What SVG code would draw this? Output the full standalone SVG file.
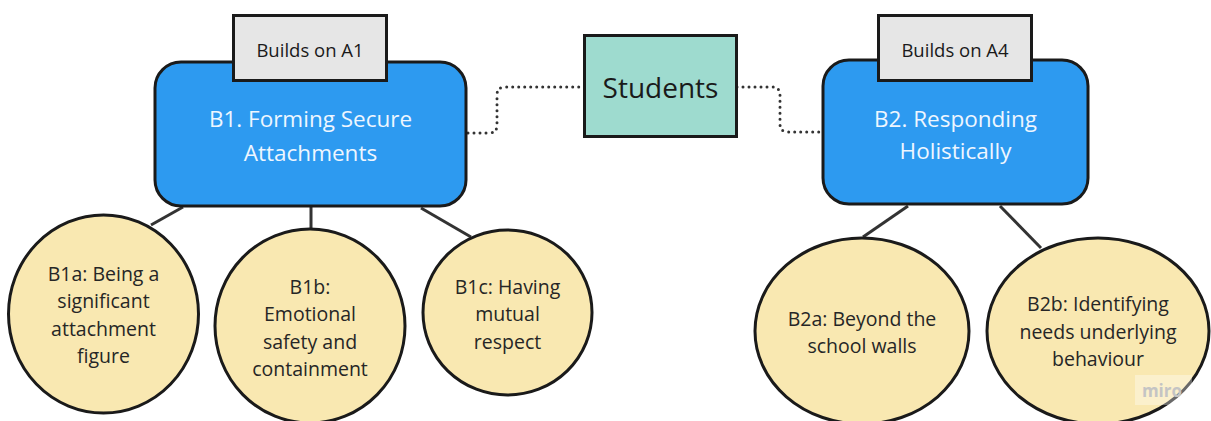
<svg xmlns="http://www.w3.org/2000/svg" width="1211" height="421" viewBox="0 0 1211 421">
<style>
text{font-family:"Open Sans","Noto Sans","Liberation Sans",sans-serif;text-anchor:middle;dominant-baseline:central}
.main{fill:#2d9af0;stroke:#1a1a1a;stroke-width:3}
.main-t{fill:#eef6ff;font-size:22.5px}
.tag{fill:#e6e6e6;stroke:#1a1a1a;stroke-width:3}
.tag-t{fill:#1a1a1a;font-size:18.5px}
.sub{fill:#f9e8b1;stroke:#1a1a1a;stroke-width:3}
.sub-t{fill:#262626;font-size:19.5px}
.link{fill:none;stroke:#333;stroke-width:3}
.dot{fill:none;stroke:#333;stroke-width:3;stroke-dasharray:0 6;stroke-linecap:round;stroke-linejoin:round}
</style>
<g id="connectors">
<path class="dot" d="M468,133 H489 Q497,133 497,125 V95 Q497,87 505,87 H584"/>
<path class="dot" d="M737,87 H772 Q780,87 780,95 V124 Q780,132 788,132 H823"/>
<line class="link" x1="183" y1="207" x2="151" y2="225"/>
<line class="link" x1="311" y1="207" x2="311" y2="228"/>
<line class="link" x1="421" y1="208" x2="471" y2="237"/>
<line class="link" x1="908" y1="206" x2="863" y2="237"/>
<line class="link" x1="1000" y1="206" x2="1041" y2="248"/>
</g>
<g id="B1">
<rect class="main" x="155" y="62" width="311" height="144" rx="26"/>
<text class="main-t" x="310.5" y="118">B1. Forming Secure</text>
<text class="main-t" x="310.5" y="152">Attachments</text>
</g>
<g id="B1-tag">
<rect class="tag" x="233.5" y="15.5" width="153" height="65"/>
<text class="tag-t" x="310" y="49">Builds on A1</text>
</g>
<g id="students">
<rect x="584.5" y="35.5" width="152" height="101" fill="#9edbcf" stroke="#1a1a1a" stroke-width="3"/>
<text x="660.5" y="87" fill="#1a1a1a" font-size="28px">Students</text>
</g>
<g id="B2">
<rect class="main" x="823" y="60" width="265" height="144" rx="26"/>
<text class="main-t" x="955.5" y="118">B2. Responding</text>
<text class="main-t" x="955.5" y="150">Holistically</text>
</g>
<g id="B2-tag">
<rect class="tag" x="878.5" y="15.5" width="153" height="65"/>
<text class="tag-t" x="955" y="49">Builds on A4</text>
</g>
<g id="B1a">
<ellipse class="sub" cx="103.5" cy="314" rx="95" ry="99"/>
<text class="sub-t" x="103.5" y="273">B1a: Being a</text>
<text class="sub-t" x="103.5" y="300.5">significant</text>
<text class="sub-t" x="103.5" y="328">attachment</text>
<text class="sub-t" x="103.5" y="355.5">figure</text>
</g>
<g id="B1b">
<ellipse class="sub" cx="310" cy="326" rx="95" ry="97"/>
<text class="sub-t" x="310" y="286">B1b:</text>
<text class="sub-t" x="310" y="313.5">Emotional</text>
<text class="sub-t" x="310" y="341">safety and</text>
<text class="sub-t" x="310" y="368.5">containment</text>
</g>
<g id="B1c">
<ellipse class="sub" cx="507.5" cy="312.5" rx="84.5" ry="82.5"/>
<text class="sub-t" x="507.5" y="286">B1c: Having</text>
<text class="sub-t" x="507.5" y="313.5">mutual</text>
<text class="sub-t" x="507.5" y="341">respect</text>
</g>
<g id="B2a">
<ellipse class="sub" cx="862" cy="331" rx="107" ry="93"/>
<text class="sub-t" x="862" y="318">B2a: Beyond the</text>
<text class="sub-t" x="862" y="345.5">school walls</text>
</g>
<g id="B2b">
<ellipse class="sub" cx="1098" cy="331" rx="111" ry="93"/>
<text class="sub-t" x="1098" y="303.5">B2b: Identifying</text>
<text class="sub-t" x="1098" y="331">needs underlying</text>
<text class="sub-t" x="1098" y="358.5">behaviour</text>
</g>
<g id="watermark">
<rect x="1135" y="375" width="57" height="30" fill="#ffffff" fill-opacity="0.35"/>
<text x="1162" y="390" fill="#c4c4c4" font-size="17px" font-weight="bold">miro</text>
</g>
</svg>
